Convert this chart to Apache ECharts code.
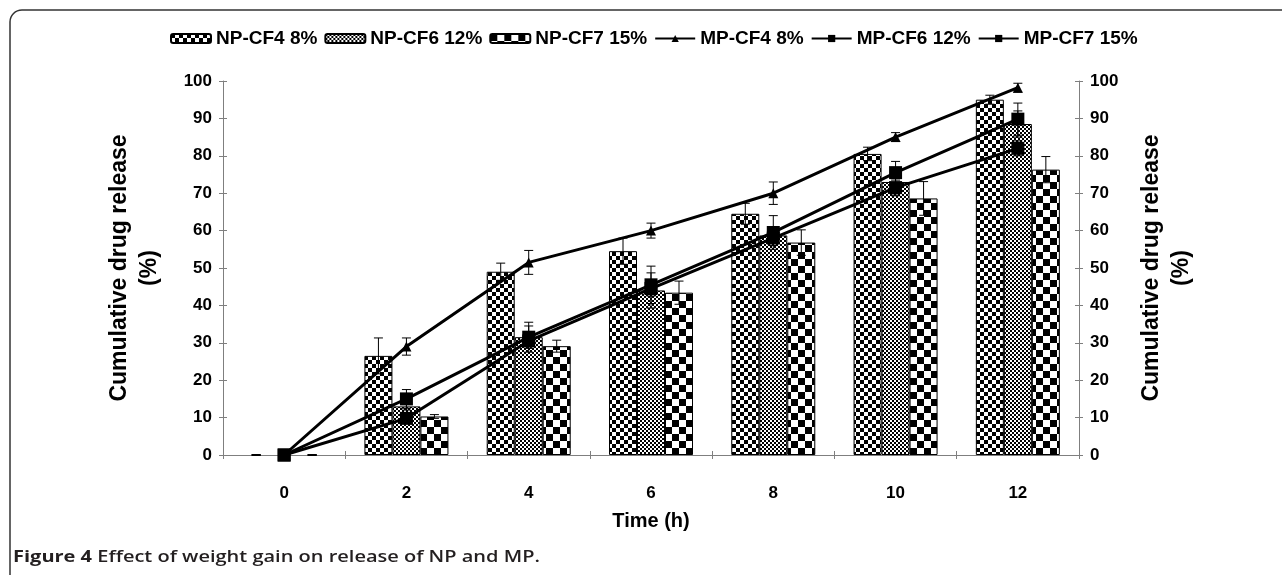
<!DOCTYPE html>
<html>
<head>
<meta charset="utf-8">
<script src="https://cdn.jsdelivr.net/npm/echarts@6/dist/echarts.min.js"></script>
<style>
  html, body { margin: 0; padding: 0; background: #fff; }
  #chart { width: 1282px; height: 575px; }
</style>
</head>
<body>
<div id="chart"></div>
<script>
// time points (h)
const categories = ['0', '2', '4', '6', '8', '10', '12'];

// bars: NP formulations
const npCF4 = [0, 26.5, 49, 54.5, 64.5, 80.5, 95];
const npCF4Err = [0, 4.8, 2.3, 3.5, 2.8, 1.8, 1.2];
const npCF6 = [0, 13, 31.5, 44, 58.7, 73, 88.5];
const npCF6Err = [0, 1, 3, 4.7, 2, 3.7, 3.5];
const npCF7 = [0, 10.3, 29.1, 43.4, 56.8, 68.6, 76.3];
const npCF7Err = [0, 0.5, 1.6, 3.1, 3.4, 4.5, 3.5];

// lines: MP formulations
const mpCF4 = [0, 29, 51.5, 60, 70, 85, 98.2];
const mpCF4Err = [0, 2.3, 3.2, 2, 3, 1.2, 1.2];
const mpCF6 = [0, 15, 31.5, 45.5, 59.5, 75.5, 89.8];
const mpCF6Err = [0, 2.5, 4, 5, 4.5, 3, 4.3];
const mpCF7 = [0, 9.8, 30.5, 44.5, 58, 71.5, 82];
const mpCF7Err = [0, 1, 1.5, 2, 2, 2, 2];

const BAR_W = 28;
const FONT = 'Liberation Sans';

function checker(cell) {
    const c = document.createElement('canvas');
    c.width = c.height = cell * 2;
    const ctx = c.getContext('2d');
    ctx.fillStyle = '#fff';
    ctx.fillRect(0, 0, cell * 2, cell * 2);
    ctx.fillStyle = '#000';
    ctx.fillRect(0, 0, cell, cell);
    ctx.fillRect(cell, cell, cell, cell);
    return { image: c, repeat: 'repeat' };
}

// symmetric error bars, drawn at the bar centre (offset from the category centre)
function errSeries(name, values, errs, offset) {
    return {
        name: name,
        type: 'custom',
        z: 5,
        silent: true,
        data: values.map((v, i) => [i, v, errs[i]]),
        encode: { x: 0, y: 1 },
        renderItem: function (params, api) {
            const i = api.value(0), v = api.value(1), e = api.value(2);
            const top = api.coord([i, v + e]);
            const bot = api.coord([i, Math.max(v - e, 0)]);
            const x = top[0] + offset;
            const style = { stroke: '#000', lineWidth: e ? 1 : 2 };
            return {
                type: 'group',
                children: [
                    { type: 'line', shape: { x1: x, y1: top[1], x2: x, y2: bot[1] }, style: style },
                    { type: 'line', shape: { x1: x - 4.5, y1: top[1], x2: x + 4.5, y2: top[1] }, style: style },
                    { type: 'line', shape: { x1: x - 4.5, y1: bot[1], x2: x + 4.5, y2: bot[1] }, style: style }
                ]
            };
        }
    };
}

function barSeries(name, data, cell) {
    return {
        name: name,
        type: 'bar',
        barWidth: BAR_W,
        barGap: '0%',
        data: data.map(v => v === 0 ? { value: v, itemStyle: { borderWidth: 0 } } : v),
        itemStyle: { color: checker(cell), borderColor: '#000', borderWidth: 1 }
    };
}

function lineSeries(name, data, symbol, size) {
    return {
        name: name,
        type: 'line',
        z: 6,
        data: data,
        symbol: symbol,
        symbolSize: size,
        lineStyle: { color: '#000', width: 3 },
        itemStyle: { color: '#000' }
    };
}

const chart = echarts.init(document.getElementById('chart'));

const yAxisBase = {
    type: 'value',
    min: 0,
    max: 100,
    interval: 10,
    axisLine: { show: true, lineStyle: { color: '#7f7f7f', width: 1 } },
    axisTick: { show: true, length: 4, lineStyle: { color: '#7f7f7f' } },
    splitLine: { show: false },
    axisLabel: { color: '#000', fontFamily: FONT, fontWeight: 'bold', fontSize: 17, margin: 11 },
    name: 'Cumulative drug release\n(%)',
    nameLocation: 'middle',
    nameRotate: 90,
    nameGap: 58,
    nameTextStyle: { color: '#000', fontFamily: FONT, fontWeight: 'bold', fontSize: 23, lineHeight: 30 }
};
const yAxisInner = {
    type: 'value', min: 0, max: 100, interval: 10,
    axisLine: { show: false },
    axisTick: { show: true, inside: true, length: 4, lineStyle: { color: '#7f7f7f' } },
    axisLabel: { show: false },
    splitLine: { show: false }
};

const option = {
    backgroundColor: '#fff',
    animation: false,
    textStyle: { fontFamily: FONT },
    legend: {
        top: 24,
        left: 165,
        itemWidth: 40,
        itemHeight: 9,
        itemGap: 7,
        data: ['NP-CF4 8%', 'NP-CF6 12%', 'NP-CF7 15%', 'MP-CF4 8%', 'MP-CF6 12%', 'MP-CF7 15%'],
        textStyle: { color: '#000', fontFamily: FONT, fontWeight: 'bold', fontSize: 19 }
    },
    grid: { left: 223, right: 203, top: 81, bottom: 120 },
    xAxis: [{
        type: 'category',
        data: categories,
        axisLine: { lineStyle: { color: '#7f7f7f', width: 1 } },
        axisTick: { show: true, length: 4, lineStyle: { color: '#7f7f7f' } },
        axisLabel: { color: '#000', fontFamily: FONT, fontWeight: 'bold', fontSize: 17, margin: 30 },
        name: 'Time (h)',
        nameLocation: 'middle',
        nameGap: 56,
        nameTextStyle: { color: '#000', fontFamily: FONT, fontWeight: 'bold', fontSize: 20 }
    }, {
        type: 'category',
        data: categories,
        position: 'bottom',
        axisLine: { show: false },
        axisTick: { show: true, inside: true, length: 4, lineStyle: { color: '#7f7f7f' } },
        axisLabel: { show: false }
    }],
    yAxis: [
        Object.assign({}, yAxisBase, { position: 'left' }),
        Object.assign({}, yAxisBase, { position: 'right' }),
        Object.assign({}, yAxisInner, { position: 'left' }),
        Object.assign({}, yAxisInner, { position: 'right' })
    ],
    graphic: [{
        type: 'rect',
        shape: { x: 10, y: 10, width: 1320, height: 640, r: 12 },
        style: { fill: 'none', stroke: '#333', lineWidth: 1.5 },
        silent: true
    }, {
        type: 'text',
        x: 13,
        y: 557,
        scaleX: 1.25,
        style: {
            text: '{b|Figure 4} Effect of weight gain on release of NP and MP.',
            fontFamily: 'Open Sans',
            fontSize: 16,
            fontWeight: 600,
            fill: '#231f20',
            verticalAlign: 'middle',
            rich: { b: { fontFamily: 'Open Sans', fontSize: 16, fontWeight: 'bold', fill: '#231f20' } }
        }
    }],
    series: [
        barSeries('NP-CF4 8%', npCF4, 4),
        barSeries('NP-CF6 12%', npCF6, 2),
        barSeries('NP-CF7 15%', npCF7, 7),
        errSeries('errNP4', npCF4, npCF4Err, -BAR_W),
        errSeries('errNP6', npCF6, npCF6Err, 0),
        errSeries('errNP7', npCF7, npCF7Err, BAR_W),
        errSeries('errMP4', mpCF4, mpCF4Err, 0),
        errSeries('errMP6', mpCF6, mpCF6Err, 0),
        errSeries('errMP7', mpCF7, mpCF7Err, 0),
        lineSeries('MP-CF4 8%', mpCF4, 'triangle', 10),
        lineSeries('MP-CF6 12%', mpCF6, 'rect', 13),
        lineSeries('MP-CF7 15%', mpCF7, 'rect', 13)
    ]
};

chart.setOption(option);
window.addEventListener('resize', function () {
    chart.resize();
});
</script>
</body>
</html>
